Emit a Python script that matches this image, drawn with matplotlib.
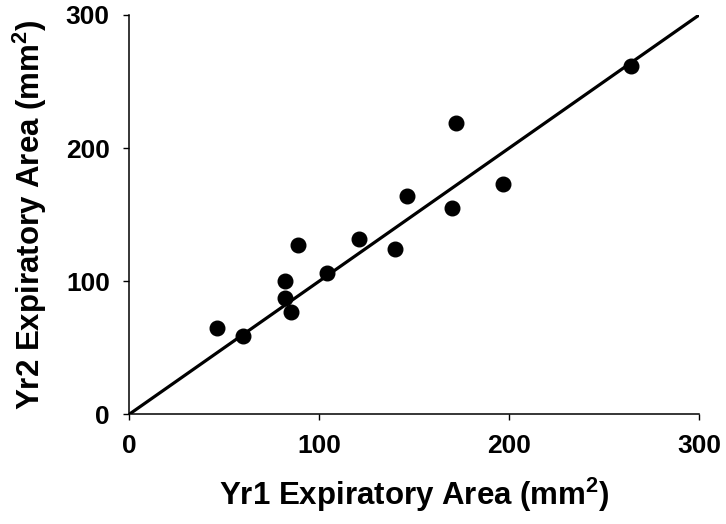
import matplotlib
matplotlib.use("Agg")
import matplotlib.pyplot as plt

# Yr1 vs Yr2 expiratory area (mm^2)
yr1_area = [46, 60, 82, 82, 85, 89, 104, 121, 140, 146, 170, 172, 197, 264]
yr2_area = [65, 59, 100, 87, 77, 127, 106, 132, 124, 164, 155, 219, 173, 262]

# line of identity
line_x = [0, 300]
line_y = [0, 300]

ticks = [0, 100, 200, 300]

plt.rcParams["font.family"] = ["Liberation Sans", "DejaVu Sans"]
plt.rcParams["mathtext.fontset"] = "custom"
plt.rcParams["mathtext.rm"] = "Liberation Sans"
plt.rcParams["mathtext.default"] = "regular"

fig = plt.figure(figsize=(7.26, 5.24), dpi=100)
ax = fig.add_axes([0.178, 0.2094, 0.785, 0.762])

ax.plot(line_x, line_y, color="black", linewidth=2.3, solid_capstyle="butt", zorder=2)
ax.plot(yr1_area, yr2_area, "o", color="black", markersize=10.5, zorder=3)

ax.set_xlim(0, 300)
ax.set_ylim(0, 300)
ax.set_xticks(ticks)
ax.set_yticks(ticks)
ax.set_xticklabels([str(t) for t in ticks], fontsize=19, fontweight="bold")
ax.set_yticklabels([str(t) for t in ticks], fontsize=19, fontweight="bold")
ax.tick_params(direction="out", length=4, width=1, pad=10, color="black")

for side in ("top", "right"):
    ax.spines[side].set_visible(False)
for side in ("left", "bottom"):
    ax.spines[side].set_linewidth(1.1)

ax.set_xlabel("Yr1 Expiratory Area (mm$^2$)", fontsize=22.5, fontweight="bold", labelpad=13)
ax.set_ylabel("Yr2 Expiratory Area (mm$^2$)", fontsize=22.5, fontweight="bold", labelpad=12)

fig.savefig("out.png", dpi=100)
